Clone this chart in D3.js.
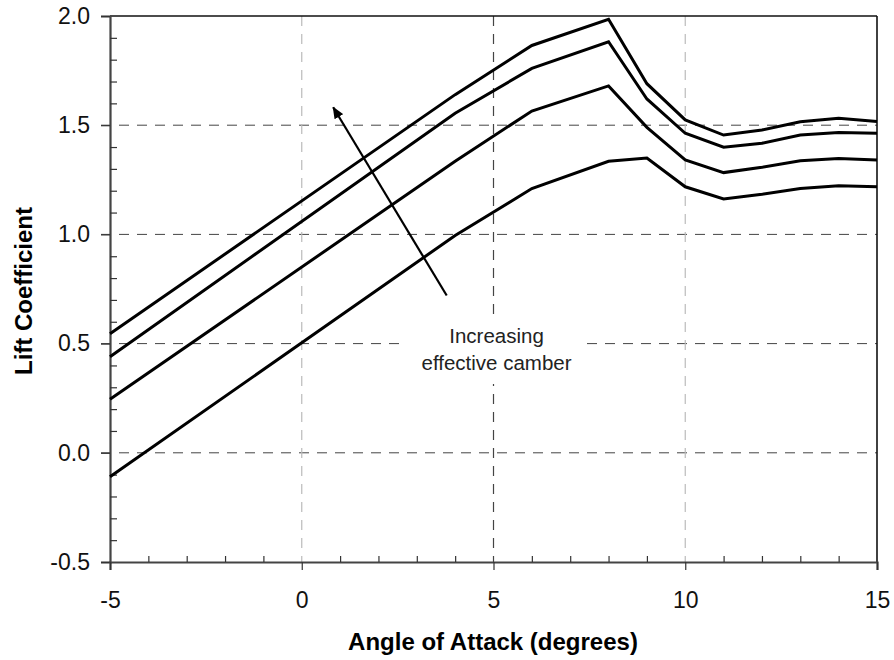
<!DOCTYPE html>
<html>
<head>
<meta charset="utf-8">
<script src="https://cdn.jsdelivr.net/npm/d3@7"></script>
<style>
  html, body { margin: 0; padding: 0; background: #fff; }
  svg { display: block; font-family: "Liberation Sans", Arial, Helvetica, sans-serif; }
</style>
</head>
<body>
<svg id="chart" width="894" height="660"></svg>
<script>
// Angle of attack (degrees) at which each curve is sampled
const angles = [-5, 4, 6, 8, 9, 10, 11, 12, 13, 14, 15];

// Lift coefficient curves, from lowest to highest effective camber
const camberA = [-0.11, 0.995, 1.21, 1.335, 1.35, 1.218, 1.162, 1.184, 1.21, 1.223, 1.218];
const camberB = [0.245, 1.335, 1.565, 1.68, 1.49, 1.341, 1.283, 1.307, 1.337, 1.348, 1.341];
const camberC = [0.44, 1.555, 1.76, 1.882, 1.62, 1.463, 1.399, 1.417, 1.455, 1.467, 1.463];
const camberD = [0.545, 1.64, 1.865, 1.985, 1.69, 1.524, 1.455, 1.478, 1.516, 1.532, 1.517];

// Axis ticks
const xMajorTicks = [-5, 0, 5, 10, 15];
const xMinorTicks = [-4, -3, -2, -1, 1, 2, 3, 4, 6, 7, 8, 9, 11, 12, 13, 14];
const yMajorTicks = [-0.5, 0.0, 0.5, 1.0, 1.5, 2.0];
const yMinorTicks = [-0.4, -0.3, -0.2, -0.1, 0.1, 0.2, 0.3, 0.4, 0.6, 0.7, 0.8, 0.9,
                     1.1, 1.2, 1.3, 1.4, 1.6, 1.7, 1.8, 1.9];

// Annotation arrow (tail -> head) in data coordinates
const arrowTail = [3.78, 0.72];
const arrowHead = [0.82, 1.582];
const noteLines = ["Increasing", "effective camber"];

const svg = d3.select("#chart");
const plotLeft = 110, plotRight = 877, plotTop = 16, plotBottom = 562;

const x = d3.scaleLinear().domain([-5, 15]).range([plotLeft, plotRight]);
const y = d3.scaleLinear().domain([-0.5, 2.0]).range([plotBottom, plotTop]);

// Plain hyphen-minus for negative tick labels
const fmtY = d => d3.format(".1f")(d).replace("\u2212", "-");
const fmtX = d => d3.format("d")(d).replace("\u2212", "-");

const gridDark = "#444";
const gridLight = "#bbb";

// Horizontal dashed gridlines
svg.append("g").selectAll("line")
  .data(yMajorTicks.filter(v => v > -0.5 && v < 2.0))
  .join("line")
  .attr("x1", plotLeft - 9).attr("x2", plotRight)
  .attr("y1", d => y(d)).attr("y2", d => y(d))
  .attr("stroke", gridDark).attr("stroke-width", 1)
  .attr("stroke-dasharray", "10,8");

// Vertical dashed gridlines
svg.append("g").selectAll("line")
  .data(xMajorTicks.filter(v => v > -5 && v < 15))
  .join("line")
  .attr("x1", d => x(d)).attr("x2", d => x(d))
  .attr("y1", plotTop).attr("y2", plotBottom)
  .attr("stroke", d => d === 5 ? gridDark : gridLight).attr("stroke-width", 1.2)
  .attr("stroke-dasharray", "10,8");

// Top and right frame
svg.append("line").attr("x1", plotLeft).attr("x2", plotRight).attr("y1", plotTop).attr("y2", plotTop)
  .attr("stroke", "#111").attr("stroke-width", 1.6);
svg.append("line").attr("x1", plotRight).attr("x2", plotRight).attr("y1", plotTop).attr("y2", plotBottom)
  .attr("stroke", "#111").attr("stroke-width", 1.6);

// Y axis: outward major ticks with labels, inward minor ticks
svg.append("g").attr("transform", `translate(${plotLeft},0)`)
  .call(d3.axisLeft(y).tickValues(yMajorTicks).tickSize(9).tickPadding(11).tickFormat(fmtY));
svg.append("g").attr("transform", `translate(${plotLeft},0)`)
  .call(d3.axisLeft(y).tickValues(yMinorTicks).tickSize(-7).tickFormat(""))
  .call(g => g.select(".domain").remove());

// X axis
svg.append("g").attr("transform", `translate(0,${plotBottom})`)
  .call(d3.axisBottom(x).tickValues(xMajorTicks).tickSize(8).tickPadding(22).tickFormat(fmtX));
svg.append("g").attr("transform", `translate(0,${plotBottom})`)
  .call(d3.axisBottom(x).tickValues(xMinorTicks).tickSize(-6).tickFormat(""))
  .call(g => g.select(".domain").remove());

svg.selectAll(".domain").attr("stroke", "#444").attr("stroke-width", 2.2);
svg.selectAll(".tick line").attr("stroke", "#333").attr("stroke-width", 1.2);
svg.selectAll(".tick text").attr("fill", "#111").style("font-size", "23px")
  .style("font-family", "\"Liberation Sans\", Arial, sans-serif");

// Curves
const line = d3.line().x((d, i) => x(angles[i])).y(d => y(d));
[camberA, camberB, camberC, camberD].forEach(series => {
  svg.append("path").datum(series)
    .attr("d", line)
    .attr("fill", "none").attr("stroke", "#000")
    .attr("stroke-width", 3).attr("stroke-linejoin", "miter");
});

// Arrow showing the direction of increasing camber
svg.append("defs").append("marker")
  .attr("id", "arrowhead").attr("viewBox", "0 0 12 10")
  .attr("refX", 11).attr("refY", 5)
  .attr("markerWidth", 12).attr("markerHeight", 10)
  .attr("markerUnits", "userSpaceOnUse").attr("orient", "auto")
  .append("path").attr("d", "M0,0 L12,5 L0,10 Z").attr("fill", "#000");

svg.append("line")
  .attr("x1", x(arrowTail[0])).attr("y1", y(arrowTail[1]))
  .attr("x2", x(arrowHead[0])).attr("y2", y(arrowHead[1]))
  .attr("stroke", "#000").attr("stroke-width", 2.2)
  .attr("marker-end", "url(#arrowhead)");

// Annotation text on a white box
svg.append("rect").attr("x", 404).attr("y", 320).attr("width", 178).attr("height", 64)
  .attr("fill", "#fff");
svg.append("g").selectAll("text").data(noteLines).join("text")
  .attr("x", 496.5).attr("y", (d, i) => 343 + i * 27)
  .attr("text-anchor", "middle")
  .style("font-size", "20.5px").attr("fill", "#222")
  .text(d => d);

// Axis titles
svg.append("text")
  .attr("x", 493).attr("y", 650)
  .attr("text-anchor", "middle")
  .style("font-size", "24px").style("font-weight", "bold")
  .text("Angle of Attack (degrees)");

svg.append("text")
  .attr("transform", "translate(32,291) rotate(-90)")
  .attr("text-anchor", "middle")
  .style("font-size", "24px").style("font-weight", "bold")
  .text("Lift Coefficient");
</script>
</body>
</html>
